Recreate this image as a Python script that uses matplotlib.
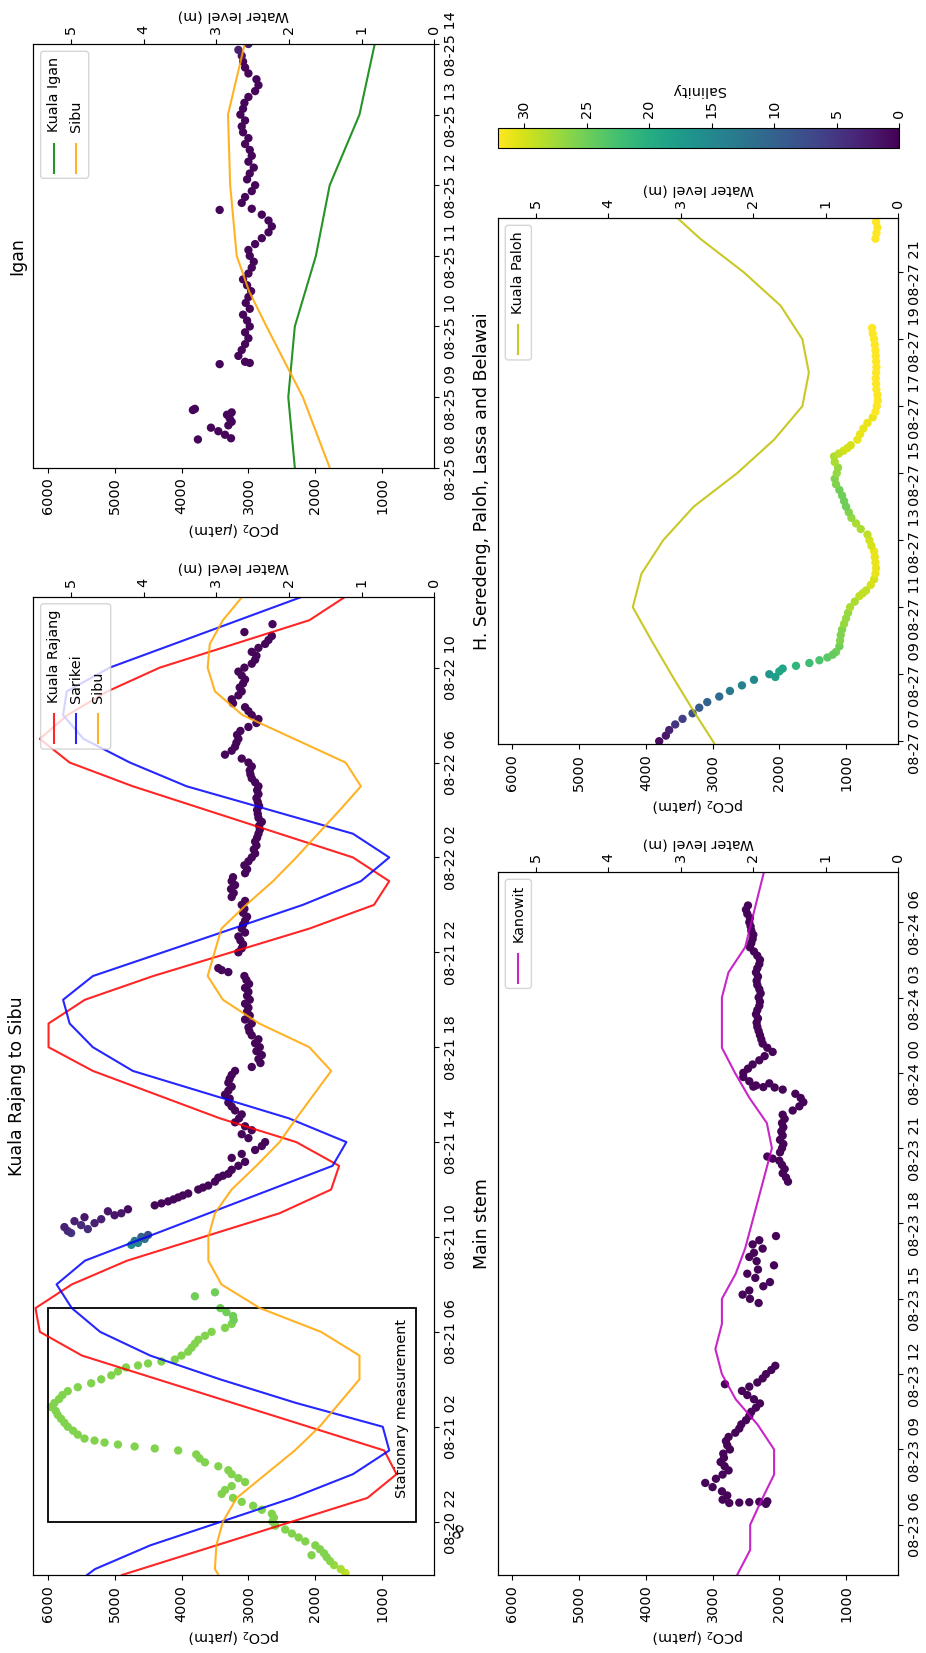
import numpy as np
import pandas as pd
import matplotlib
matplotlib.use("Agg")
from matplotlib import pyplot as plt
import matplotlib.dates as mdates
from matplotlib.colors import Normalize
from matplotlib.cm import ScalarMappable
from matplotlib.patches import Rectangle, FancyBboxPatch
from matplotlib.lines import Line2D
from matplotlib.transforms import IdentityTransform

nan = np.nan
YEAR = "2016-"

# ---------------- water levels (m) ----------------
kr_time = ["08-20 19:45", "08-20 23:00", "08-21 00:00", "08-21 01:00", "08-21 05:00", "08-21 06:00",
           "08-21 07:00", "08-21 08:00", "08-21 09:00", "08-21 11:00", "08-21 12:00", "08-21 13:00",
           "08-21 14:00", "08-21 15:00", "08-21 17:00", "08-21 18:00", "08-21 19:00", "08-21 20:00",
           "08-21 21:00", "08-21 23:00", "08-22 00:00", "08-22 01:00", "08-22 02:00", "08-22 05:00",
           "08-22 06:00", "08-22 07:00", "08-22 08:00", "08-22 09:00", "08-22 10:00", "08-22 12:00",
           "08-22 13:00"]
kr_level = [4.30, 0.92, 0.52, 0.69, 4.85, 5.43, 5.49, 4.99, 4.23, 2.13, 1.42, 1.31, 1.90, 2.95, 4.70,
            5.31, 5.31, 4.81, 3.87, 1.72, 0.83, 0.62, 1.12, 4.15, 5.02, 5.43, 5.05, 4.50, 3.78, 1.72, 1.22]

sk_time = ["08-20 19:45", "08-20 20:00", "08-20 21:00", "08-20 23:00", "08-21 00:00", "08-21 01:00",
           "08-21 02:00", "08-21 03:00", "08-21 04:00", "08-21 05:00", "08-21 06:00", "08-21 07:00",
           "08-21 08:00", "08-21 09:00", "08-21 13:00", "08-21 14:00", "08-21 15:00", "08-21 17:00",
           "08-21 18:00", "08-21 19:00", "08-21 20:00", "08-21 21:00", "08-22 00:00", "08-22 01:00",
           "08-22 02:00", "08-22 03:00", "08-22 05:00", "08-22 06:00", "08-22 07:00", "08-22 08:00",
           "08-22 09:00", "08-22 10:00", "08-22 13:00"]
sk_level = [4.78, 4.67, 3.91, 1.95, 1.12, 0.62, 0.71, 1.90, 2.95, 3.91, 4.60, 4.99, 5.20, 4.81, 1.40,
            1.21, 2.00, 4.15, 4.70, 5.02, 5.11, 4.70, 1.81, 1.01, 0.62, 1.12, 3.41, 4.19, 4.83, 5.11,
            5.06, 4.47, 1.81]

sbk_time = ["08-20 19:45", "08-20 20:00", "08-20 21:00", "08-20 22:00", "08-20 23:00", "08-21 01:00",
            "08-21 02:00", "08-21 04:00", "08-21 05:00", "08-21 06:00", "08-21 07:00", "08-21 08:00",
            "08-21 09:00", "08-21 10:00", "08-21 11:00", "08-21 12:00", "08-21 13:00", "08-21 14:00",
            "08-21 15:00", "08-21 17:00", "08-21 18:00", "08-21 19:00", "08-21 20:00", "08-21 21:00",
            "08-21 23:00", "08-22 00:00", "08-22 01:00", "08-22 02:00", "08-22 03:00", "08-22 04:00",
            "08-22 05:00", "08-22 06:00", "08-22 08:00", "08-22 09:00", "08-22 10:00", "08-22 11:00",
            "08-22 12:00", "08-22 13:00"]
sbk_level = [2.97, 3.02, 3.00, 2.91, 2.72, 1.92, 1.58, 1.03, 1.03, 1.56, 2.40, 2.93, 3.11, 3.11, 3.02,
             2.79, 2.45, 2.13, 1.90, 1.42, 1.72, 2.41, 2.91, 3.12, 2.93, 2.59, 2.22, 1.90, 1.60, 1.30,
             1.01, 1.22, 2.64, 3.02, 3.12, 3.09, 2.91, 2.64]

ki_time = ["08-25 08:00", "08-25 09:00", "08-25 10:00", "08-25 11:00", "08-25 12:00", "08-25 13:00", "08-25 14:00"]
ki_level = [1.92, 2.01, 1.92, 1.63, 1.44, 1.03, 0.82]
sbi_time = ["08-25 08:00", "08-25 09:00", "08-25 10:00", "08-25 10:30", "08-25 11:00", "08-25 12:00",
            "08-25 13:00", "08-25 14:00"]
sbi_level = [1.44, 1.81, 2.31, 2.55, 2.72, 2.81, 2.84, 2.61]

kn_time = ["08-23 04:00", "08-23 05:00", "08-23 06:00", "08-23 07:00", "08-23 08:00", "08-23 09:00",
           "08-23 10:00", "08-23 11:00", "08-23 12:00", "08-23 13:00", "08-23 14:00", "08-23 15:00",
           "08-23 16:00", "08-23 17:00", "08-23 21:00", "08-23 22:00", "08-23 23:00", "08-24 00:00",
           "08-24 01:00", "08-24 03:00", "08-24 04:00", "08-24 05:00", "08-24 08:00"]
kn_level = [2.22, 2.04, 2.04, 1.88, 1.71, 1.71, 1.94, 2.24, 2.43, 2.52, 2.43, 2.43, 2.24, 2.11, 1.74,
            1.81, 2.05, 2.25, 2.43, 2.43, 2.34, 2.11, 1.85]

kp_time = ["08-27 06:55", "08-27 08:00", "08-27 09:00", "08-27 10:00", "08-27 11:00", "08-27 12:00",
           "08-27 13:00", "08-27 14:00", "08-27 15:00", "08-27 16:00", "08-27 17:00", "08-27 18:00",
           "08-27 19:00", "08-27 20:00", "08-27 21:00", "08-27 22:00", "08-27 22:40"]
kp_level = [2.53, 2.85, 3.13, 3.40, 3.66, 3.54, 3.24, 2.82, 2.22, 1.71, 1.32, 1.23, 1.32, 1.62, 2.13, 2.73, 3.07]

# ---------------- pCO2 (uatm) and salinity ----------------
# Kuala Rajang to Sibu, 10 min records
krg_start = "08-20 19:50"
krg_pco2 = [1550, 1620, 1720, 1780, 1830, 1870, 1930, 2000, 2150, 2250, 2350, 2450, 2600, 2640, 2620, 2650,
            2800, 2930, 3100, 3230, 3400, 3350, 3250, 3050, 3150, 3250, 3300, 3450, 3650, 3730, 3780, 4050,
            4700, 5150, 5450, 5550, 5620, 5700, 5750, 5800, 5850, 5880, 5950, 5900, 5830, 5780, 5700, 5550,
            5350, 5200, 5050, 4950, 4830, 4500, 4100, 4000, 3900, 3850, 3800, 3750, 3650, 3550, 3350, 3250,
            3220, 3230, 3330, 3420, nan, nan, 3800, 3500]
krg_sal = [29, 28, 27, 26.5] + [26] * 60 + [25] * 8

krp_start = "08-21 11:20"
krp_pco2 = [4400, 4200, 4050, 3900, 3750, 3600, 3500, 3450, 3300, 3250, 3150, 3050, 3250, 3100, 2900, 2800,
            2750, 3000, 3100, 2950, 3050, 3200,
            3140, 3100, 3200, 3250, 3300, 3280, 3350, 3300, 3250, 3300, 3280, 3250,
            3200, 2950, 2820, 2850, 2800, 2880, 2830, 2900, 2850, 2950, 2985, 3000,
            2950, 3050, 2980, 3020, 3000, 3050, 2980, 3020, 3000, 3050, 2990, 3030,
            3060, 3300, 3450, nan, nan, nan, 3150, 3100, 3080, 3120, 3150, 3050,
            3100, 3080, 3050, 3020, 3080, 3060, 3100, 3050, 3250, 3220, 3260, 3200,
            3250, 3230, 3050, 3020, 3060, 3000, 2950, 2900, 2920, 2880, 2900, 2870,
            2850, 2830, 2840, 2800, 2850, 2860, 2870, 2840, 2860, 2880, 2850, 2870,
            2850, 2900, 2950, 2970, 2980, 2950, 3000, 3100, 3350, 3250, 3200, 3180,
            3150, 3170, 3120, 3000, 2880, 2850, 2950, 3000, 3050, 3230, 3250, 3150,
            3100, 3130, 3080, 3050, 3100, 3150, 3060, 2950, 2900, 2880, 2950, 2850,
            2750, 2700, 2650, 3060, nan, 2640]
krp_sal = 0.4

krb_start = "08-21 10:10"   # 5 min records
krb_pco2 = [5650, 5700, 5400, 5750, 5500, 5300, 5600, 5200, 5450, 5000, 4900, 5100, 4800]
krb_sal = [5, 4, 4, 3, 4, 3, 3, 3, 2, 2, 2, 2, 1]
krt_start = "08-21 09:40"
krt_pco2 = [4750, 4650, 4700, 4550, 4600, 4500]
krt_sal = [15, 14, 13, 12, 10, 8]
kr_extra_time = ["08-20 20:35", "08-21 01:05", "08-21 01:15", "08-21 01:25", "08-21 04:35", "08-21 04:45",
                 "08-21 11:25", "08-21 11:35", "08-21 11:45", "08-21 12:05", "08-21 12:35", "08-21 21:15"]
kr_extra_pco2 = [2057, 4400, 4950, 5300, 4650, 4300, 4300, 4120, 3980, 3680, 3380, 3400]
kr_extra_sal = [26, 26, 26, 26, 26, 26, 0.4, 0.4, 0.4, 0.4, 0.4, 0.4]

# Igan
ig_early_time = ["08-25 08:24", "08-25 08:25", "08-25 08:28", "08-25 08:31", "08-25 08:34", "08-25 08:36",
                 "08-25 08:39", "08-25 08:42", "08-25 08:45", "08-25 08:47", "08-25 08:49", "08-25 08:50",
                 "08-25 09:28", "08-25 09:29", "08-25 11:39"]
ig_early_pco2 = [3755, 3260, 3350, 3450, 3560, 3300, 3250, 3280, 3320, 3250, 3830, 3800, 3430, 2980, 3430]
ig_start = "08-25 09:30"    # 5 min records
ig_pco2 = [3050, 3150, 3100, 3050, 3000, 3050, 2980, 3020, 3080, 2980, 3040, 3000, 2960, 3020, 3080, 3000,
           2950, 2920, 2980, 3000, 2900, 2800, 2700, 2650, 2700, 2800, 2950, 3100, 3050, 2950, 2900, 3020,
           2980, 2920, 3000, 2950, 2980, 3050, 3000, 3080, 3100, 3050, 3120, 3080, 3060, 3000, 2900, 2850,
           2880, 3000, 3050, 3080, 3100, 3150, 3000]
ig_sal = [0.5] * 52 + [2, 3, 3]

# Main stem
ms1_start = "08-23 06:50"
ms1_pco2 = [2200, 2850, 2780, 2860, 3000, 3110, 2950, 2850, 2760, 2820, 2880, 2830, 2840, 2740, 2780, 2800,
            2760, 2660, 2600, 2570, 2500, 2450, 2420, 2350, 2290, 2380, 2480, 2560, 2450, 2330, 2250, 2200,
            2120, 2060]
ms2_start = "08-23 14:50"
ms2_pco2 = [2310, 2440, 2550, 2450, 2240, 2140, 2360, 2480, 2320, 2080, 2340, 2450, 2380, 2250, 2400, 2300, 2050]
ms3_start = "08-23 19:40"
ms3_pco2 = [1870, 1900, 1950, 1920, 1960, 2000, 2180, 1990, 1960, 1940, 1990, 1950, 1970, 1940,
            1960, 1920, 1950, 1800, 1700, 1640, 1680, 1760, 1950, 2350, 2450, 2540,
            2540, 2470, 2400, 2300, 2220, 2100, 2180, 2250, 2270, 2290, 2310, 2330,
            2340, 2320, 2350, 2330, 2300, 2290, 2310, 2280, 2300, 2330, 2340, 2320,
            2350, 2330, 2300, 2290, 2330, 2380, 2440, 2420, 2400, 2390, 2420, 2430,
            2450, 2440, 2480, 2500, 2470]
ms_extra_time = ["08-23 06:52", "08-23 06:53", "08-23 06:54", "08-23 06:55", "08-23 06:56", "08-23 11:36",
                 "08-23 23:25", "08-23 23:26", "08-23 23:27", "08-23 23:35", "08-23 20:35"]
ms_extra_pco2 = [2750, 2600, 2450, 2300, 2180, 2815, 2070, 2240, 2390, 2150, 2100]
ms_sal = 0.3

# H. Seredeng, Paloh, Lassa and Belawai
pl_start = "08-27 07:00"
pl_pco2 = [3800, 3700, 3650, 3560, 3450, 3300, 3200, 3080, 2900, 2740, 2560, 2380,
           2150, 1950, 1550, 1280, 1150, 1100, 1090, 1080, 1060, 1030, 1000, 970,
           940, 870, 800, 700, 630, 580, 560, 550, 560, 570, 580, 620,
           650, 680, 780, 850, 920, 960, 1000, 1030, 1060, 1100, 1150, 1170,
           1140, 1120, 1170, 1180, 1040, 930, 830, 790, 740, 680, 600, 560,
           540, 525, 530, 545, 550, 555, 550, 545, 550, 555, 560, 570, 580, 600, 610]
pl_sal = [1, 2, 3, 5, 6, 8, 9, 10, 11, 13, 14, 15, 17, 19, 22, 24, 25, 25, 26, 26, 26, 27, 27, 27,
          28, 28, 29, 29, 30, 30, 31, 31, 31, 31, 31, 30, 30, 29, 28, 28, 27, 26, 25, 25, 25, 25, 26, 26,
          27, 27, 28, 28, 30, 30, 31, 31, 31, 31, 31, 32] + [32] * 15
pl2_start = "08-27 22:00"
pl2_pco2 = [560, 545, 530, 550]
pl2_sal = [32, 32, 32, 32]
pl_extra_time = ["08-27 08:55", "08-27 09:05", "08-27 09:15", "08-27 09:25", "08-27 09:35", "08-27 11:25",
                 "08-27 15:35", "08-27 15:45"]
pl_extra_pco2 = [2060, 2000, 1750, 1400, 1200, 750, 1110, 980]
pl_extra_sal = [18, 19, 21, 23, 24.5, 29, 29, 30]


def dt(lst):
    return mdates.date2num(pd.to_datetime([YEAR + s for s in lst]))


def run(start, n, step="10min"):
    return mdates.date2num(pd.date_range(YEAR + start, periods=n, freq=step))


W, H = 926, 1653
plt.rcParams["font.size"] = 10.4
fig = plt.figure(figsize=(W / 100, H / 100), dpi=100)
norm = Normalize(0, 32.1)
PCO2_LIM = (6215, 222)
LEVEL_LIM = (5.52, 0)


def px_axes(x0, y0, x1, y1):
    return fig.add_axes([x0 / W, 1 - y1 / H, (x1 - x0) / W, (y1 - y0) / H])


def setup(ax, t0, t1, locator, title):
    ax.set_xlim(*PCO2_LIM)
    ax.set_xticks([1000, 2000, 3000, 4000, 5000, 6000])
    ax.set_ylim(dt([t0])[0], dt([t1])[0])
    ax.yaxis.set_major_locator(locator)
    ax.yaxis.set_major_formatter(mdates.DateFormatter("%m-%d %H"))
    ax.yaxis.tick_right()
    ax.tick_params(axis="x", labelrotation=90)
    ax.tick_params(axis="y", labelrotation=90)
    for lbl in ax.get_yticklabels():
        lbl.set_va("center")
    ax.set_xlabel("pCO$_2$ ($\\mu$atm)", rotation=180)
    ax.annotate(title, xy=(0, 0.5), xycoords="axes fraction", xytext=(-5, 0),
                textcoords="offset points", rotation=90, ha="right", va="center", fontsize=12.5)
    ax2 = ax.twiny()
    ax2.set_xlim(*LEVEL_LIM)
    ax2.set_xticks([0, 1, 2, 3, 4, 5])
    ax2.tick_params(axis="x", labelrotation=90)
    ax2.set_xlabel("Water level (m)", rotation=180)
    ax2.set_ylim(ax.get_ylim())
    return ax2


def dots(ax, t, p, s, size=36):
    ax.scatter(p, t, c=s, cmap="viridis", norm=norm, s=size, linewidths=0, zorder=2)


def rot_legend(ax, labels, colors):
    # legend drawn turned a quarter, like the rest of the page
    x0 = ax.get_position().x0 * W
    y0 = (1 - ax.get_position().y1) * H
    pad, off, hl, htp, pitch, rowh = 5.8, 7.3, 28.8, 11.5, 22.0, 14.5
    r = fig.canvas.get_renderer()
    tx = [fig.text(0, 0, lab, rotation=90, ha="center", va="bottom", transform=IdentityTransform(),
                   zorder=12) for lab in labels]
    L = max(t.get_window_extent(r).height for t in tx)
    hbox = L + 2 * pad + htp + hl
    wbox = 2 * pad + rowh + (len(labels) - 1) * pitch
    bl, bt = x0 + off, y0 + off
    fig.add_artist(FancyBboxPatch((bl, H - bt - hbox), wbox, hbox,
                                  boxstyle="round,pad=0,rounding_size=3", transform=IdentityTransform(),
                                  facecolor="white", edgecolor="0.8", alpha=0.8, lw=1, zorder=10))
    for i, (t, col) in enumerate(zip(tx, colors)):
        cx = bl + pad + rowh / 2 + i * pitch
        yb = bt + hbox - pad
        fig.add_artist(Line2D([cx, cx], [H - yb, H - (yb - hl)], color=col, alpha=0.85, lw=1.5,
                              transform=IdentityTransform(), zorder=11))
        t.set_position((cx, H - (yb - hl - htp)))


# ---------- Igan ----------
ax = px_axes(33.3, 44, 434.3, 467.7)
ax2 = setup(ax, "08-25 08:00", "08-25 14:00", mdates.HourLocator(interval=1), "Igan")
dots(ax, dt(ig_early_time), ig_early_pco2, [0.5] * len(ig_early_pco2))
dots(ax, run(ig_start, len(ig_pco2), "5min"), ig_pco2, ig_sal)
ax2.plot(ki_level, dt(ki_time), color="g", alpha=0.85)
ax2.plot(sbi_level, dt(sbi_time), color="orange", alpha=0.85)
rot_legend(ax, ["Kuala Igan", "Sibu"], ["g", "orange"])

# ---------- Kuala Rajang to Sibu ----------
ax = px_axes(33.3, 596.5, 434.3, 1575)
ax2 = setup(ax, "08-20 19:45", "08-22 13:00", mdates.HourLocator(byhour=[2, 6, 10, 14, 18, 22]),
            "Kuala Rajang to Sibu")
dots(ax, run(krg_start, len(krg_pco2)), krg_pco2, krg_sal)
dots(ax, run(krp_start, len(krp_pco2)), krp_pco2, [krp_sal] * len(krp_pco2))
dots(ax, run(krb_start, len(krb_pco2), "5min"), krb_pco2, krb_sal)
dots(ax, run(krt_start, len(krt_pco2), "5min"), krt_pco2, krt_sal)
dots(ax, dt(kr_extra_time), kr_extra_pco2, kr_extra_sal)
t22, t07, t23 = dt(["08-20 22:00", "08-21 07:00", "08-20 23:00"])
ax.add_patch(Rectangle((500, t22), 5500, t07 - t22, fill=False, edgecolor="black", lw=1.3, zorder=3))
ax.text(600, t23, "Stationary measurement", rotation=90, ha="right", va="bottom", zorder=4)
ax2.plot(kr_level, dt(kr_time), color="r", alpha=0.85)
ax2.plot(sk_level, dt(sk_time), color="b", alpha=0.85)
ax2.plot(sbk_level, dt(sbk_time), color="orange", alpha=0.85)
rot_legend(ax, ["Kuala Rajang", "Sarikei", "Sibu"], ["r", "b", "orange"])

# ---------- H. Seredeng, Paloh, Lassa and Belawai ----------
ax = px_axes(498, 218, 898, 744)
ax2 = setup(ax, "08-27 06:55", "08-27 22:37", mdates.HourLocator(byhour=range(1, 24, 2)),
            "H. Seredeng, Paloh, Lassa and Belawai")
dots(ax, run(pl_start, len(pl_pco2)), pl_pco2, pl_sal)
dots(ax, run(pl2_start, len(pl2_pco2)), pl2_pco2, pl2_sal)
dots(ax, dt(pl_extra_time), pl_extra_pco2, pl_extra_sal)
ax2.plot(kp_level, dt(kp_time), color="y", alpha=0.85)
rot_legend(ax, ["Kuala Paloh"], ["y"])

# ---------- Main stem ----------
ax = px_axes(498, 872, 898, 1575)
ax2 = setup(ax, "08-23 04:00", "08-24 08:00", mdates.HourLocator(byhour=range(0, 24, 3)), "Main stem")
for start, vals in [(ms1_start, ms1_pco2), (ms2_start, ms2_pco2), (ms3_start, ms3_pco2)]:
    dots(ax, run(start, len(vals)), vals, [ms_sal] * len(vals))
dots(ax, dt(ms_extra_time), ms_extra_pco2, [ms_sal] * len(ms_extra_pco2))
ax2.plot(kn_level, dt(kn_time), color="m", alpha=0.85)
rot_legend(ax, ["Kanowit"], ["m"])

# ---------- colorbar ----------
cax = px_axes(498, 128, 899, 148)
cb = fig.colorbar(ScalarMappable(norm=norm, cmap="viridis"), cax=cax, orientation="horizontal")
cax.invert_xaxis()
cax.xaxis.set_ticks_position("top")
cax.xaxis.set_label_position("top")
cb.set_ticks([0, 5, 10, 15, 20, 25, 30])
cax.tick_params(axis="x", labelrotation=90)
cb.set_label("Salinity", rotation=180)

fig.text(458 / W, 1 - 1530 / H, "\u221e", rotation=65, ha="center", va="center", fontsize=16,
         family="DejaVu Serif")

fig.savefig("out.png", dpi=100)
